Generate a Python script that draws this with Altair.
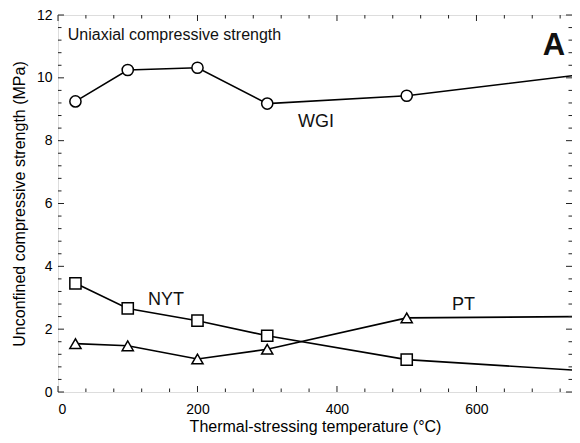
import altair as alt
import pandas as pd

# ---- data ----
temps = [25, 100, 200, 300, 500, 750]
wgi = [9.25, 10.25, 10.32, 9.18, 9.43, 10.1]
nyt = [3.46, 2.66, 2.27, 1.79, 1.03, 0.68]
pt = [1.54, 1.47, 1.05, 1.36, 2.36, 2.40]

series_names = ["WGI", "NYT", "PT"]
series_shapes = ["circle", "square", "triangle-up"]

x_major = [0, 200, 400, 600]
x_minor = [40, 80, 120, 160, 240, 280, 320, 360, 440, 480, 520, 560, 640, 680, 720]
y_major = [0, 2, 4, 6, 8, 10, 12]
y_minor = [round(0.4 * i, 1) for i in range(1, 30) if (i % 5) != 0]

label_text = ["WGI", "NYT", "PT"]
label_x = [344, 129, 565]
label_y = [8.43, 2.76, 2.61]

note_text = ["Uniaxial compressive strength"]
note_x = [14]
note_y = [11.22]

panel_text = ["A"]
panel_x = [695]
panel_y = [10.73]

W, H = 514, 377
X_MAX = 737
FONT = "Liberation Sans"

rows = []
for name, vals in zip(series_names, [wgi, nyt, pt]):
    for t, v in zip(temps, vals):
        rows.append({"series": name, "temp": t, "value": v})
df = pd.DataFrame(rows)

xs = alt.Scale(domain=[0, X_MAX], nice=False, zero=False)
ys = alt.Scale(domain=[0, 12], nice=False)

x_enc = alt.X("temp:Q", scale=xs, axis=alt.Axis(
    values=x_major, title="Thermal-stressing temperature (°C)", ticks=False, domain=False,
    grid=False, labelPadding=10, titlePadding=2, labelFontSize=14, titleFontSize=16,
    labelColor="black", titleColor="black", titleFontWeight="normal", labelFont=FONT, titleFont=FONT))
y_enc = alt.Y("value:Q", scale=ys, axis=alt.Axis(
    values=y_major, title="Unconfined compressive strength (MPa)", ticks=False, domain=False,
    grid=False, labelPadding=6, titlePadding=9, labelFontSize=14, titleFontSize=16,
    labelColor="black", titleColor="black", titleFontWeight="normal", labelFont=FONT, titleFont=FONT))

lines = alt.Chart(df).mark_line(color="black", strokeWidth=1.6, clip=True).encode(
    x=x_enc, y=y_enc, detail="series:N")

points = alt.Chart(df).mark_point(filled=True, fill="white", stroke="black", strokeWidth=1.5,
                                  size=125, opacity=1, clip=True).encode(
    x=alt.X("temp:Q", scale=xs),
    y=alt.Y("value:Q", scale=ys),
    shape=alt.Shape("series:N", scale=alt.Scale(domain=series_names, range=series_shapes), legend=None))

xM = pd.DataFrame({"t": x_major})
xm = pd.DataFrame({"t": x_minor})
yM = pd.DataFrame({"v": y_major})
ym = pd.DataFrame({"v": y_minor})

ticks = []
for d, L in [(xM, 6), (xm, 3.5)]:
    ticks.append(alt.Chart(d).mark_rule(color="#222", strokeWidth=1).encode(
        x=alt.X("t:Q", scale=xs), y=alt.value(H), y2=alt.value(H - L)))
    ticks.append(alt.Chart(d).mark_rule(color="#222", strokeWidth=1).encode(
        x=alt.X("t:Q", scale=xs), y=alt.value(0), y2=alt.value(L)))
for d, L in [(yM, 6), (ym, 3.5)]:
    ticks.append(alt.Chart(d).mark_rule(color="#222", strokeWidth=1).encode(
        y=alt.Y("v:Q", scale=ys), x=alt.value(0), x2=alt.value(L)))
    ticks.append(alt.Chart(d).mark_rule(color="#222", strokeWidth=1).encode(
        y=alt.Y("v:Q", scale=ys), x=alt.value(W), x2=alt.value(W - L)))

lab_df = pd.DataFrame({"t": label_x, "v": label_y, "txt": label_text})
labels = alt.Chart(lab_df).mark_text(align="left", baseline="alphabetic", fontSize=18,
                                     font=FONT, color="#111").encode(
    x=alt.X("t:Q", scale=xs), y=alt.Y("v:Q", scale=ys), text="txt:N")

note_df = pd.DataFrame({"t": note_x, "v": note_y, "txt": note_text})
note = alt.Chart(note_df).mark_text(align="left", baseline="alphabetic", fontSize=16,
                                    font=FONT, color="#111").encode(
    x=alt.X("t:Q", scale=xs), y=alt.Y("v:Q", scale=ys), text="txt:N")

panel_df = pd.DataFrame({"t": panel_x, "v": panel_y, "txt": panel_text})
panel = alt.Chart(panel_df).mark_text(align="left", baseline="alphabetic", fontSize=31,
                                      fontWeight="bold", font=FONT, color="#111").encode(
    x=alt.X("t:Q", scale=xs), y=alt.Y("v:Q", scale=ys), text="txt:N")

chart = alt.layer(lines, *ticks, points, labels, note, panel).properties(
    width=W, height=H,
    autosize=alt.AutoSizeParams(type="none"),
    padding={"left": 50, "top": 7, "right": 0, "bottom": 43}
).configure_view(stroke="#222", strokeWidth=1.2).configure(background="white")

chart.save("out.html", embed_options={"renderer": "svg", "actions": False})
